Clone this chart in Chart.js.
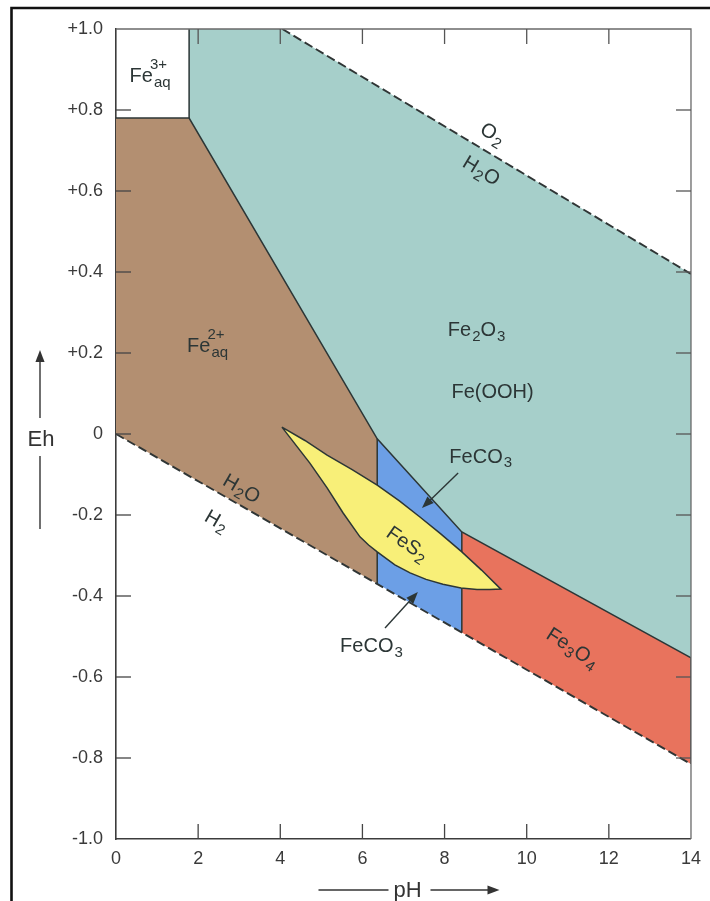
<!DOCTYPE html>
<html>
<head>
<meta charset="utf-8">
<script src="https://cdn.jsdelivr.net/npm/chart.js@4.4.1/dist/chart.umd.min.js"></script>
<style>
  html, body { margin: 0; padding: 0; background: #fff; }
  #wrap { position: relative; width: 710px; height: 901px; }
</style>
</head>
<body>
<div id="wrap"><canvas id="pourbaix" width="710" height="901"></canvas></div>
<script>
// axis ticks
const xTicks = [0, 2, 4, 6, 8, 10, 12, 14];
const yTicks = [-1.0, -0.8, -0.6, -0.4, -0.2, 0, 0.2, 0.4, 0.6, 0.8, 1.0];
const yTickLabels = ['-1.0', '-0.8', '-0.6', '-0.4', '-0.2', '0', '+0.2', '+0.4', '+0.6', '+0.8', '+1.0'];

// stability fields, [pH, Eh]
const fe2Field = [[0, 0.78], [1.78, 0.78], [6.36, -0.012], [6.36, -0.370], [0, 0]];
const oxideField = [[1.78, 1.0], [4.05, 1.0], [14, 0.395], [14, -0.553], [8.42, -0.242], [6.36, -0.012], [1.78, 0.78]];
const sideriteField = [[6.36, -0.012], [8.42, -0.242], [8.42, -0.490], [6.36, -0.370]];
const magnetiteField = [[8.42, -0.242], [14, -0.553], [14, -0.815], [8.42, -0.490]];
const pyriteUpper = [[4.04, 0.017], [4.6, -0.016], [5.14, -0.052], [5.75, -0.088], [6.36, -0.126], [6.9, -0.165], [7.40, -0.205], [7.9, -0.246], [8.42, -0.291], [8.9, -0.336], [9.37, -0.383]];
const pyriteLower = [[9.1, -0.384], [8.79, -0.384], [8.4, -0.380], [7.96, -0.371], [7.55, -0.359], [7.16, -0.343], [6.79, -0.323], [6.36, -0.291], [6.15, -0.274], [5.94, -0.254], [5.53, -0.195], [5.14, -0.133], [4.72, -0.072], [4.04, 0.017]];

// field boundaries
const solidBoundaries = [
  [[1.78, 1.0], [1.78, 0.78]],
  [[0, 0.78], [1.78, 0.78], [6.36, -0.012], [8.42, -0.242], [14, -0.553]],
  [[6.36, -0.012], [6.36, -0.370]],
  [[8.42, -0.242], [8.42, -0.490]],
  [[14, -0.553], [14, -0.815]]
];
const o2Line = [[4.05, 1.0], [14, 0.395]];
const h2Line = [[0, 0], [14, -0.815]];

// field names: parts, centre [pH, Eh], rotation in degrees
const fieldLabels = [
  { parts: ['Fe', { sup: '3+', sub: 'aq' }], at: [0.83, 0.886], rot: 0 },
  { parts: ['Fe', { sup: '2+', sub: 'aq' }], at: [2.23, 0.220], rot: 0 },
  { parts: ['Fe', { sub: '2' }, 'O', { sub: '3' }], at: [8.78, 0.259], rot: 0 },
  { parts: ['Fe(OOH)'], at: [9.17, 0.106], rot: 0 },
  { parts: ['FeCO', { sub: '3' }], at: [8.88, -0.054], rot: 0 },
  { parts: ['FeCO', { sub: '3' }], at: [6.22, -0.521], rot: 0 },
  { parts: ['FeS', { sub: '2' }], at: [7.11, -0.269], rot: 35 },
  { parts: ['Fe', { sub: '3' }, 'O', { sub: '4' }], at: [11.13, -0.526], rot: 33 },
  { parts: ['O', { sub: '2' }], at: [9.18, 0.743], rot: 31 },
  { parts: ['H', { sub: '2' }, 'O'], at: [8.91, 0.652], rot: 31 },
  { parts: ['H', { sub: '2' }, 'O'], at: [3.07, -0.133], rot: 30 },
  { parts: ['H', { sub: '2' }], at: [2.46, -0.212], rot: 30 }
];
const pointerArrows = [
  [[8.33, -0.096], [7.45, -0.183]],
  [[6.55, -0.479], [7.35, -0.390]]
];

const FONT = '"Liberation Sans", Arial, Helvetica, sans-serif';
const INK = '#2c3636';

function pts(arr) {
  return arr.map(p => ({ x: p[0], y: p[1] }));
}

// order: higher numbers are painted first (underneath)
function field(arr, color, border, order) {
  return {
    data: pts(arr),
    backgroundColor: color,
    borderColor: border || 'rgba(0,0,0,0)',
    borderWidth: border ? 1.5 : 0,
    fill: 'shape',
    pointRadius: 0,
    tension: 0,
    order: order
  };
}

function edge(arr, dashed) {
  return {
    data: pts(arr),
    borderColor: dashed ? '#2f3535' : INK,
    borderWidth: dashed ? 1.9 : 1.5,
    borderDash: dashed ? [9, 4] : [],
    fill: false,
    pointRadius: 0,
    tension: 0,
    order: 1
  };
}

function drawFormula(ctx, parts, cx, cy, angle, size) {
  const small = Math.round(size * 0.74);
  const big = size + 'px ' + FONT;
  const sm = small + 'px ' + FONT;
  const widths = parts.map(p => {
    if (typeof p === 'string') {
      ctx.font = big;
      return ctx.measureText(p).width;
    }
    ctx.font = sm;
    return Math.max(p.sup ? ctx.measureText(p.sup).width : 0, p.sub ? ctx.measureText(p.sub).width + 1 : 0);
  });
  const w = widths.reduce((a, b) => a + b, 0);
  ctx.save();
  ctx.translate(cx, cy);
  ctx.rotate(angle * Math.PI / 180);
  ctx.fillStyle = INK;
  ctx.textAlign = 'left';
  ctx.textBaseline = 'alphabetic';
  let x = -w / 2;
  const base = size * 0.36;
  parts.forEach((p, i) => {
    if (typeof p === 'string') {
      ctx.font = big;
      ctx.fillText(p, x, base);
    } else {
      ctx.font = sm;
      if (p.sup) ctx.fillText(p.sup, x - (p.sub ? 3 : 0), base - size * 0.65);
      if (p.sub) ctx.fillText(p.sub, x + 1, base + size * 0.22);
    }
    x += widths[i];
  });
  ctx.restore();
}

function arrow(ctx, x1, y1, x2, y2, head) {
  const a = Math.atan2(y2 - y1, x2 - x1);
  ctx.beginPath();
  ctx.moveTo(x1, y1);
  ctx.lineTo(x2 - Math.cos(a) * head * 0.8, y2 - Math.sin(a) * head * 0.8);
  ctx.stroke();
  ctx.beginPath();
  ctx.moveTo(x2, y2);
  ctx.lineTo(x2 - head * Math.cos(a) + head * 0.38 * Math.sin(a), y2 - head * Math.sin(a) - head * 0.38 * Math.cos(a));
  ctx.lineTo(x2 - head * Math.cos(a) - head * 0.38 * Math.sin(a), y2 - head * Math.sin(a) + head * 0.38 * Math.cos(a));
  ctx.closePath();
  ctx.fill();
}

const decorations = {
  id: 'decorations',
  afterDatasetsDraw(chart) {
    const { ctx, chartArea: a, scales: { x, y } } = chart;
    ctx.save();
    // top and right frame
    ctx.strokeStyle = '#6a6a6a';
    ctx.lineWidth = 1.3;
    ctx.beginPath();
    ctx.moveTo(a.left, a.top);
    ctx.lineTo(a.right, a.top);
    ctx.lineTo(a.right, a.bottom);
    ctx.stroke();

    // inward tick marks
    const len = 15;
    ctx.lineWidth = 1.3;
    yTicks.forEach(v => {
      if (v === -1 || v === 1) return;
      const py = y.getPixelForValue(v);
      ctx.strokeStyle = '#444';
      ctx.beginPath(); ctx.moveTo(a.left, py); ctx.lineTo(a.left + len, py); ctx.stroke();
      ctx.strokeStyle = '#555';
      ctx.beginPath(); ctx.moveTo(a.right, py); ctx.lineTo(a.right - len, py); ctx.stroke();
    });
    xTicks.forEach(v => {
      if (v === 0 || v === 14) return;
      const px = x.getPixelForValue(v);
      ctx.strokeStyle = '#444';
      ctx.beginPath(); ctx.moveTo(px, a.bottom); ctx.lineTo(px, a.bottom - len); ctx.stroke();
      ctx.strokeStyle = '#555';
      ctx.beginPath(); ctx.moveTo(px, a.top); ctx.lineTo(px, a.top + len); ctx.stroke();
    });

    // field names
    fieldLabels.forEach(l => {
      drawFormula(ctx, l.parts, x.getPixelForValue(l.at[0]), y.getPixelForValue(l.at[1]), l.rot, 20);
    });

    // pointers to the siderite field
    ctx.strokeStyle = INK;
    ctx.fillStyle = INK;
    ctx.lineWidth = 1.4;
    pointerArrows.forEach(p => {
      arrow(ctx, x.getPixelForValue(p[0][0]), y.getPixelForValue(p[0][1]),
        x.getPixelForValue(p[1][0]), y.getPixelForValue(p[1][1]), 12);
    });

    // axis titles with arrows
    ctx.fillStyle = '#333';
    ctx.strokeStyle = '#333';
    ctx.font = '22px ' + FONT;
    ctx.textAlign = 'center';
    ctx.textBaseline = 'middle';
    const ehX = 40, ehY = y.getPixelForValue(-0.015);
    ctx.fillText('Eh', ehX + 1, ehY);
    ctx.lineWidth = 1.4;
    arrow(ctx, ehX, ehY - 22, ehX, ehY - 90, 12);
    ctx.beginPath(); ctx.moveTo(ehX, ehY + 16); ctx.lineTo(ehX, ehY + 89); ctx.stroke();

    const phX = (a.left + a.right) / 2 + 4, phY = 891;
    ctx.fillText('pH', phX, phY);
    ctx.beginPath(); ctx.moveTo(phX - 89, phY - 1); ctx.lineTo(phX - 19, phY - 1); ctx.stroke();
    arrow(ctx, phX + 23, phY - 1, phX + 92, phY - 1, 12);
    ctx.restore();
  },
  afterDraw(chart) {
    const ctx = chart.ctx;
    ctx.save();
    ctx.strokeStyle = '#111';
    ctx.lineWidth = 2.6;
    ctx.beginPath();
    ctx.moveTo(11.5, 901);
    ctx.lineTo(11.5, 8);
    ctx.lineTo(710, 8);
    ctx.stroke();
    ctx.restore();
  }
};

const datasets = [
  field(oxideField, '#a6cfca', null, 10),
  field(fe2Field, '#b38f71', null, 10),
  field(sideriteField, '#6c9fe6', null, 10),
  field(magnetiteField, '#e8735d', null, 10)
];
solidBoundaries.forEach(b => datasets.push(edge(b, false)));
datasets.push(field(pyriteUpper.concat(pyriteLower), '#f8ef78', INK, 0));
datasets.push(edge(o2Line, true));
datasets.push(edge(h2Line, true));

new Chart(document.getElementById('pourbaix'), {
  type: 'line',
  data: { datasets: datasets },
  options: {
    responsive: false,
    animation: false,
    events: [],
    layout: { padding: { top: 29, right: 19, left: 0, bottom: 0 } },
    plugins: { legend: { display: false }, tooltip: { enabled: false } },
    scales: {
      x: {
        type: 'linear',
        min: 0,
        max: 14,
        afterFit: s => { s.height = 62; },
        afterBuildTicks: s => { s.ticks = xTicks.map(v => ({ value: v })); },
        grid: { display: false, drawTicks: false },
        border: { display: true, color: '#3c3c3c', width: 1.6 },
        ticks: { padding: 9, color: '#3a3a3a', font: { family: FONT, size: 18 }, maxRotation: 0, autoSkip: false }
      },
      y: {
        type: 'linear',
        min: -1,
        max: 1,
        afterFit: s => { s.width = 116; },
        afterBuildTicks: s => { s.ticks = yTicks.map(v => ({ value: v })); },
        grid: { display: false, drawTicks: false },
        border: { display: true, color: '#3c3c3c', width: 1.6 },
        ticks: {
          padding: 13,
          color: '#3a3a3a',
          font: { family: FONT, size: 18 },
          autoSkip: false,
          callback: function (value) {
            const i = yTicks.findIndex(t => Math.abs(t - value) < 1e-9);
            return i >= 0 ? yTickLabels[i] : '';
          }
        }
      }
    }
  },
  plugins: [decorations]
});
</script>
</body>
</html>
